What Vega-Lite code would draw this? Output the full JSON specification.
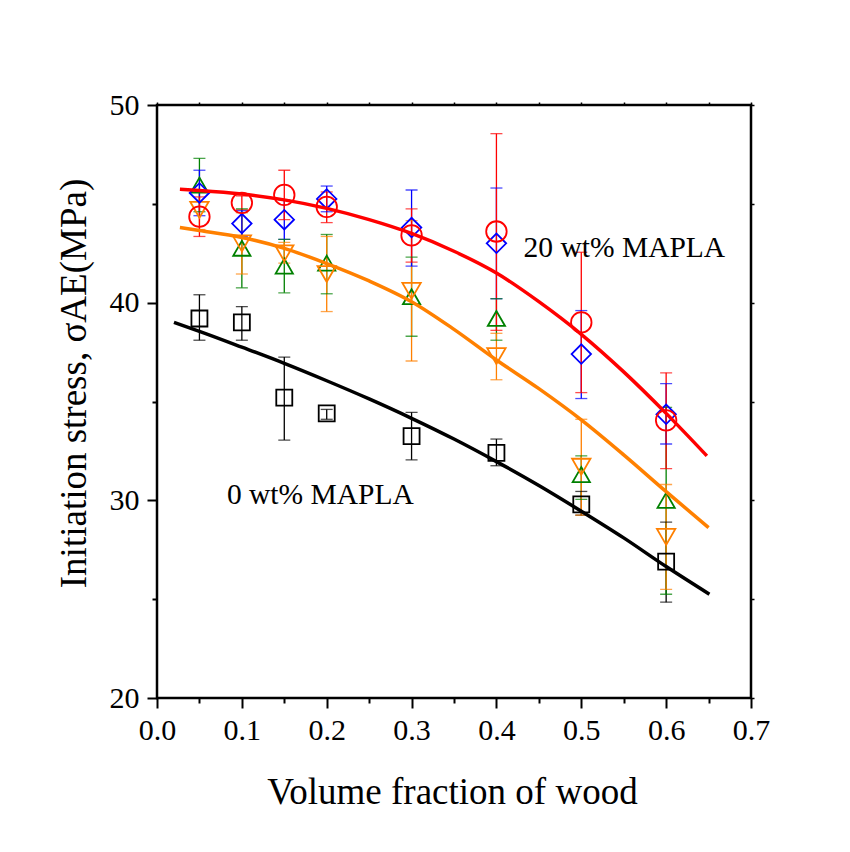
{
  "$schema": "https://vega.github.io/schema/vega-lite/v6.json",
  "width": 594,
  "height": 593,
  "autosize": {"type": "none"},
  "padding": {"left": 157, "top": 105, "right": 99, "bottom": 154},
  "background": "white",
  "config": {
    "view": {"stroke": "black", "strokeWidth": 2.5},
    "font": "Liberation Serif",
    "axis": {
      "grid": false,
      "domain": false,
      "tickColor": "black",
      "tickWidth": 2,
      "labelColor": "black",
      "titleColor": "black",
      "labelFont": "Liberation Serif",
      "titleFont": "Liberation Serif",
      "titleFontWeight": "normal",
      "labelOverlap": false,
      "labelBound": false,
      "labelFlush": false,
      "zindex": 1
    }
  },
  "datasets": {
    "pts": [
      {"s": "0 wt%", "x": 0.05, "y": 39.2, "lo": 38.1, "hi": 40.4},
      {"s": "0 wt%", "x": 0.1, "y": 39.0, "lo": 38.1, "hi": 39.8},
      {"s": "0 wt%", "x": 0.15, "y": 35.2, "lo": 33.05, "hi": 37.25},
      {"s": "0 wt%", "x": 0.2, "y": 34.4, "lo": 34.1, "hi": 34.6},
      {"s": "0 wt%", "x": 0.3, "y": 33.25, "lo": 32.05, "hi": 34.45},
      {"s": "0 wt%", "x": 0.4, "y": 32.4, "lo": 31.75, "hi": 33.1},
      {"s": "0 wt%", "x": 0.5, "y": 29.8, "lo": 29.25, "hi": 30.45},
      {"s": "0 wt%", "x": 0.6, "y": 26.9, "lo": 24.85, "hi": 28.9},
      {"s": "5 wt%", "x": 0.05, "y": 45.95, "lo": 44.6, "hi": 47.3},
      {"s": "5 wt%", "x": 0.1, "y": 42.75, "lo": 40.75, "hi": 44.75},
      {"s": "5 wt%", "x": 0.15, "y": 41.85, "lo": 40.5, "hi": 43.2},
      {"s": "5 wt%", "x": 0.2, "y": 42.0, "lo": 40.45, "hi": 43.45},
      {"s": "5 wt%", "x": 0.3, "y": 40.3, "lo": 38.3, "hi": 42.3},
      {"s": "5 wt%", "x": 0.4, "y": 39.2, "lo": 38.1, "hi": 40.2},
      {"s": "5 wt%", "x": 0.5, "y": 31.3, "lo": 30.05, "hi": 32.25},
      {"s": "5 wt%", "x": 0.6, "y": 30.0, "lo": 25.25, "hi": 34.7},
      {"s": "10 wt%", "x": 0.05, "y": 44.7, "lo": 43.7, "hi": 45.65},
      {"s": "10 wt%", "x": 0.1, "y": 43.0, "lo": 41.45, "hi": 44.55},
      {"s": "10 wt%", "x": 0.15, "y": 42.5, "lo": 42.0, "hi": 43.05},
      {"s": "10 wt%", "x": 0.2, "y": 41.45, "lo": 39.55, "hi": 43.35},
      {"s": "10 wt%", "x": 0.3, "y": 40.6, "lo": 37.05, "hi": 44.15},
      {"s": "10 wt%", "x": 0.4, "y": 37.3, "lo": 36.1, "hi": 38.45},
      {"s": "10 wt%", "x": 0.5, "y": 31.7, "lo": 29.25, "hi": 34.1},
      {"s": "10 wt%", "x": 0.6, "y": 28.15, "lo": 25.5, "hi": 30.8},
      {"s": "15 wt%", "x": 0.05, "y": 45.55, "lo": 44.4, "hi": 46.7},
      {"s": "15 wt%", "x": 0.1, "y": 44.0, "lo": 43.35, "hi": 44.65},
      {"s": "15 wt%", "x": 0.15, "y": 44.2, "lo": 43.2, "hi": 45.2},
      {"s": "15 wt%", "x": 0.2, "y": 45.25, "lo": 44.6, "hi": 45.9},
      {"s": "15 wt%", "x": 0.3, "y": 43.8, "lo": 41.85, "hi": 45.7},
      {"s": "15 wt%", "x": 0.4, "y": 43.0, "lo": 40.2, "hi": 45.8},
      {"s": "15 wt%", "x": 0.5, "y": 37.4, "lo": 35.15, "hi": 39.6},
      {"s": "15 wt%", "x": 0.6, "y": 34.35, "lo": 32.85, "hi": 35.9},
      {"s": "20 wt%", "x": 0.05, "y": 44.35, "lo": 43.35, "hi": 45.35},
      {"s": "20 wt%", "x": 0.1, "y": 45.05, "lo": 44.7, "hi": 45.4},
      {"s": "20 wt%", "x": 0.15, "y": 45.45, "lo": 44.2, "hi": 46.7},
      {"s": "20 wt%", "x": 0.2, "y": 44.85, "lo": 44.05, "hi": 45.6},
      {"s": "20 wt%", "x": 0.3, "y": 43.4, "lo": 42.05, "hi": 44.75},
      {"s": "20 wt%", "x": 0.4, "y": 43.6, "lo": 38.6, "hi": 48.55},
      {"s": "20 wt%", "x": 0.5, "y": 39.0, "lo": 35.45, "hi": 42.55},
      {"s": "20 wt%", "x": 0.6, "y": 34.05, "lo": 31.6, "hi": 36.45}
    ],
    "fit": [
      {"s": "0 wt%", "x": 0.02, "y": 39.0},
      {"s": "0 wt%", "x": 0.05, "y": 38.55},
      {"s": "0 wt%", "x": 0.1, "y": 37.75},
      {"s": "0 wt%", "x": 0.15, "y": 36.93},
      {"s": "0 wt%", "x": 0.2, "y": 36.05},
      {"s": "0 wt%", "x": 0.25, "y": 35.13},
      {"s": "0 wt%", "x": 0.3, "y": 34.15},
      {"s": "0 wt%", "x": 0.35, "y": 33.1},
      {"s": "0 wt%", "x": 0.4, "y": 31.96},
      {"s": "0 wt%", "x": 0.45, "y": 30.75},
      {"s": "0 wt%", "x": 0.5, "y": 29.45},
      {"s": "0 wt%", "x": 0.55, "y": 28.1},
      {"s": "0 wt%", "x": 0.6, "y": 26.65},
      {"s": "0 wt%", "x": 0.651, "y": 25.25},
      {"s": "10 wt%", "x": 0.027, "y": 43.8},
      {"s": "10 wt%", "x": 0.05, "y": 43.65},
      {"s": "10 wt%", "x": 0.1, "y": 43.3},
      {"s": "10 wt%", "x": 0.15, "y": 42.75},
      {"s": "10 wt%", "x": 0.2, "y": 41.98},
      {"s": "10 wt%", "x": 0.25, "y": 41.1},
      {"s": "10 wt%", "x": 0.3, "y": 40.05},
      {"s": "10 wt%", "x": 0.35, "y": 38.65},
      {"s": "10 wt%", "x": 0.4, "y": 37.1},
      {"s": "10 wt%", "x": 0.45, "y": 35.65},
      {"s": "10 wt%", "x": 0.5, "y": 34.07},
      {"s": "10 wt%", "x": 0.55, "y": 32.3},
      {"s": "10 wt%", "x": 0.6, "y": 30.44},
      {"s": "10 wt%", "x": 0.65, "y": 28.62},
      {"s": "20 wt%", "x": 0.027, "y": 45.74},
      {"s": "20 wt%", "x": 0.05, "y": 45.68},
      {"s": "20 wt%", "x": 0.1, "y": 45.5},
      {"s": "20 wt%", "x": 0.15, "y": 45.2},
      {"s": "20 wt%", "x": 0.2, "y": 44.77},
      {"s": "20 wt%", "x": 0.25, "y": 44.2},
      {"s": "20 wt%", "x": 0.3, "y": 43.5},
      {"s": "20 wt%", "x": 0.35, "y": 42.6},
      {"s": "20 wt%", "x": 0.4, "y": 41.5},
      {"s": "20 wt%", "x": 0.45, "y": 40.05},
      {"s": "20 wt%", "x": 0.5, "y": 38.4},
      {"s": "20 wt%", "x": 0.55, "y": 36.5},
      {"s": "20 wt%", "x": 0.6, "y": 34.4},
      {"s": "20 wt%", "x": 0.648, "y": 32.25}
    ],
    "lab": [
      {"t": "20 wt% MAPLA", "x": 0.432, "y": 42.31},
      {"t": "0 wt% MAPLA", "x": 0.0824, "y": 29.8}
    ]
  },
  "layer": [
    {
      "data": {"name": "pts"},
      "mark": {"type": "rule", "strokeWidth": 1.3},
      "encoding": {
        "x": {
          "field": "x", "type": "quantitative",
          "scale": {"domain": [0, 0.7], "nice": false, "zero": false},
          "axis": {
            "orient": "bottom",
            "values": [0, 0.1, 0.2, 0.3, 0.4, 0.5, 0.6, 0.7],
            "format": ".1f",
            "tickSize": 10,
            "labelFontSize": 30,
            "labelPadding": 31,
            "labelBaseline": "alphabetic",
            "title": "Volume fraction of wood",
            "titleFontSize": 37,
            "titleBaseline": "alphabetic",
            "titleAlign": "center",
            "titleX": 295,
            "titleY": 105
          }
        },
        "y": {
          "field": "lo", "type": "quantitative",
          "scale": {"domain": [20, 50], "nice": false, "zero": false},
          "axis": {
            "orient": "left",
            "values": [20, 30, 40, 50],
            "tickSize": 10,
            "labelFontSize": 30,
            "labelPadding": 8,
            "title": "Initiation stress, σAE(MPa)",
            "titleFontSize": 37,
            "titleBaseline": "alphabetic",
            "titleAlign": "center",
            "titleAngle": 270,
            "titleX": -72,
            "titleY": 278
          }
        },
        "y2": {"field": "hi"},
        "color": {
          "field": "s", "type": "nominal",
          "scale": {"domain": ["0 wt%", "5 wt%", "10 wt%", "15 wt%", "20 wt%"], "range": ["#000000", "#008000", "#FF8000", "#0000FF", "#FF0000"]},
          "legend": null
        }
      }
    },
    {
      "data": {"name": "pts"},
      "mark": {"type": "tick", "orient": "horizontal", "size": 12, "thickness": 1.3},
      "encoding": {
        "x": {
          "field": "x", "type": "quantitative",
          "scale": {"domain": [0, 0.7], "nice": false, "zero": false},
          "axis": {"orient": "bottom", "values": [0.05, 0.15, 0.25, 0.35, 0.45, 0.55, 0.65], "tickSize": 5, "labels": false, "title": null}
        },
        "y": {
          "field": "lo", "type": "quantitative",
          "scale": {"domain": [20, 50], "nice": false, "zero": false},
          "axis": {"orient": "left", "values": [25, 35, 45], "tickSize": 5, "labels": false, "title": null}
        },
        "color": {"field": "s", "type": "nominal", "legend": null}
      }
    },
    {
      "data": {"name": "pts"},
      "mark": {"type": "tick", "orient": "horizontal", "size": 12, "thickness": 1.3},
      "encoding": {
        "x": {
          "field": "x", "type": "quantitative",
          "scale": {"domain": [0, 0.7], "nice": false, "zero": false},
          "axis": {"orient": "top", "values": [0, 0.05, 0.1, 0.15, 0.2, 0.25, 0.3, 0.35, 0.4, 0.45, 0.5, 0.55, 0.6, 0.65, 0.7], "tickSize": 3, "tickWidth": 1.5, "labels": false, "title": null}
        },
        "y": {
          "field": "hi", "type": "quantitative",
          "scale": {"domain": [20, 50], "nice": false, "zero": false},
          "axis": {"orient": "right", "values": [20, 25, 30, 35, 40, 45, 50], "tickSize": 3, "tickWidth": 1.5, "labels": false, "title": null}
        },
        "color": {"field": "s", "type": "nominal", "legend": null}
      }
    },
    {
      "data": {"name": "pts"},
      "mark": {"type": "point", "filled": false, "strokeWidth": 1.8, "opacity": 1},
      "encoding": {
        "x": {"field": "x", "type": "quantitative", "axis": null},
        "y": {"field": "y", "type": "quantitative", "axis": null},
        "color": {"field": "s", "type": "nominal", "legend": null},
        "shape": {
          "field": "s", "type": "nominal",
          "scale": {"domain": ["0 wt%", "5 wt%", "10 wt%", "15 wt%", "20 wt%"], "range": ["square", "triangle-up", "triangle-down", "diamond", "circle"]},
          "legend": null
        },
        "size": {
          "field": "s", "type": "nominal",
          "scale": {"domain": ["0 wt%", "5 wt%", "10 wt%", "15 wt%", "20 wt%"], "range": [256, 420, 420, 500, 320]},
          "legend": null
        }
      }
    },
    {
      "data": {"name": "fit"},
      "mark": {"type": "line", "strokeWidth": 3.5, "interpolate": "monotone"},
      "encoding": {
        "x": {"field": "x", "type": "quantitative", "axis": null},
        "y": {"field": "y", "type": "quantitative", "axis": null},
        "color": {"field": "s", "type": "nominal", "legend": null}
      }
    },
    {
      "data": {"name": "lab"},
      "mark": {"type": "text", "align": "left", "baseline": "alphabetic", "fontSize": 29.5, "font": "Liberation Serif", "color": "black"},
      "encoding": {
        "x": {"field": "x", "type": "quantitative", "axis": null},
        "y": {"field": "y", "type": "quantitative", "axis": null},
        "text": {"field": "t"}
      }
    }
  ],
  "resolve": {"axis": {"x": "independent", "y": "independent"}}
}
